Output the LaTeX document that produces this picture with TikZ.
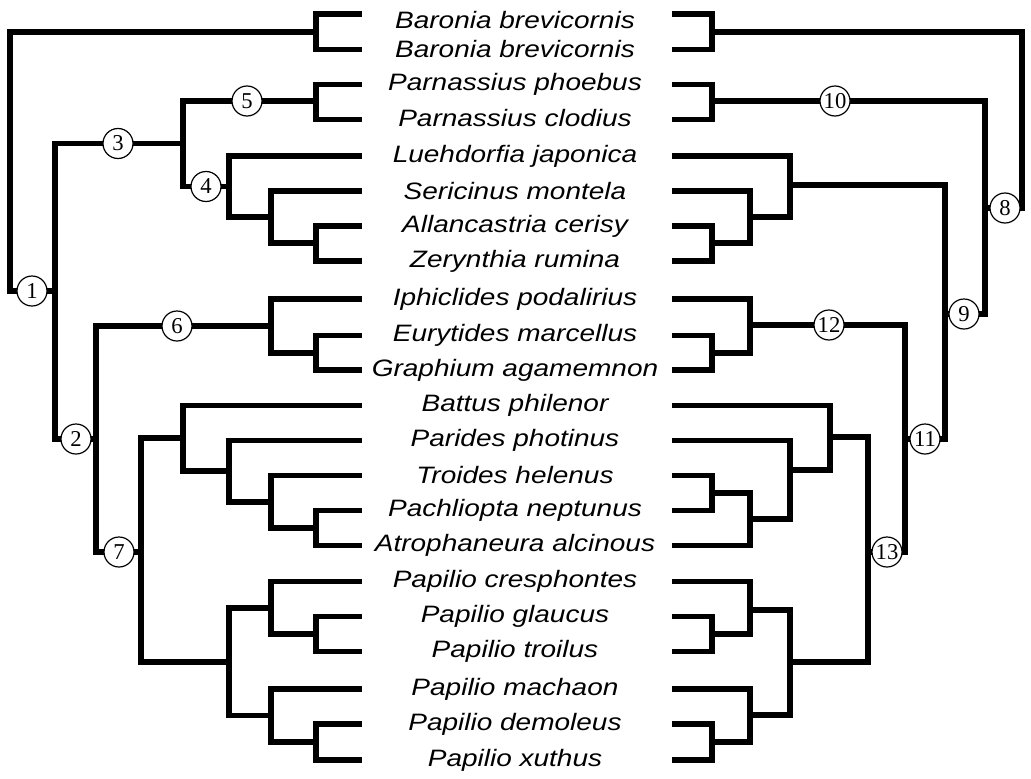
\documentclass[tikz,border=0pt]{standalone}
\usepackage{fontspec}
\newfontfamily\taxfont{Liberation Sans}[FakeStretch=1.18]
\newfontfamily\numfont{Liberation Serif}
\begin{document}
\begin{tikzpicture}[x=0.75pt,y=-0.75pt,
  branch/.style={line width=4.3pt,line cap=rect,line join=miter},
  num/.style={circle,draw,line width=0.9pt,fill=white,inner sep=0pt,minimum size=22.5pt,font=\numfont\fontsize{17}{17}\selectfont},
  taxon/.style={inner sep=0pt,font=\taxfont\itshape\fontsize{17.8}{18}\selectfont}]
\useasboundingbox (0,0) rectangle (1031,778);
% rows
\foreach \i/\y in {0/14,1/49.5,2/84.5,3/119.5,4/156,5/191,6/226,7/261,8/299,9/335.5,10/370,11/405.5,12/440.5,13/475.5,14/510.5,15/545.5,16/581.5,17/616.5,18/651.5,19/689,20/724,21/760}{
  \coordinate (l\i) at (359,\y);
  \coordinate (r\i) at (675,\y);
}
% taxa
\node[taxon] (t0) at (515,20) {Baronia brevicornis};
\node[taxon] (t1) at (515,49.5) {Baronia brevicornis};
\node[taxon] (t2) at (515,84.5) {Parnassius phoebus};
\node[taxon] (t3) at (515,118) {Parnassius clodius};
\node[taxon] (t4) at (515,156) {Luehdorfia japonica};
\node[taxon] (t5) at (515,191) {Sericinus montela};
\node[taxon] (t6) at (515,226) {Allancastria cerisy};
\node[taxon] (t7) at (515,261) {Zerynthia rumina};
\node[taxon] (t8) at (515,299) {Iphiclides podalirius};
\node[taxon] (t9) at (515,335.5) {Eurytides marcellus};
\node[taxon] (t10) at (515,370) {Graphium agamemnon};
\node[taxon] (t11) at (515,405.5) {Battus philenor};
\node[taxon] (t12) at (515,440.5) {Parides photinus};
\node[taxon] (t13) at (515,475.5) {Troides helenus};
\node[taxon] (t14) at (515,510.5) {Pachliopta neptunus};
\node[taxon] (t15) at (515,545.5) {Atrophaneura alcinous};
\node[taxon] (t16) at (515,581.5) {Papilio cresphontes};
\node[taxon] (t17) at (515,616.5) {Papilio glaucus};
\node[taxon] (t18) at (515,651.5) {Papilio troilus};
\node[taxon] (t19) at (515,689) {Papilio machaon};
\node[taxon] (t20) at (515,724) {Papilio demoleus};
\node[taxon] (t21) at (515,760) {Papilio xuthus};
% left tree nodes
\coordinate (LA) at (316,32);
\coordinate (LP) at (316,101);
\coordinate (LAZ) at (316,243);
\coordinate (LSAZ) at (271,217);
\coordinate (LLSAZ) at (229,186.5);
\coordinate (L3) at (183,143.5);
\coordinate (LEG) at (316,353);
\coordinate (L6) at (271,326);
\coordinate (LPA) at (316,528);
\coordinate (LTPA) at (271,502);
\coordinate (LPTPA) at (229,471);
\coordinate (LBat) at (183,438);
\coordinate (LGT) at (316,634);
\coordinate (LCGT) at (271,608);
\coordinate (LDX) at (316,742);
\coordinate (LMDX) at (271,715.5);
\coordinate (LPap) at (229,662);
\coordinate (L7) at (141,552);
\coordinate (L2) at (96,439);
\coordinate (Lroot) at (55,291);
\coordinate (Lbend) at (10,291);
% right tree nodes
\coordinate (RA) at (712,32);
\coordinate (RP) at (712,101);
\coordinate (RAZ) at (712,243);
\coordinate (RSAZ) at (750,217);
\coordinate (RLSAZ) at (790,185);
\coordinate (REG) at (712,353);
\coordinate (R12) at (750,325);
\coordinate (RTP) at (712,493);
\coordinate (RTPA) at (750,519);
\coordinate (RPTPA) at (790,470);
\coordinate (RBat) at (830,437);
\coordinate (RGT) at (712,634);
\coordinate (RCGT) at (750,610);
\coordinate (RDX) at (712,742);
\coordinate (RMDX) at (750,715);
\coordinate (RPap) at (790,662);
\coordinate (R13) at (868,552);
\coordinate (R11) at (905,439);
\coordinate (R9) at (945,314);
\coordinate (R10) at (985,208);
\coordinate (Rroot) at (1022,120);
% branches
\foreach \p/\c in {LA/l0,LA/l1,LP/l2,LP/l3,LAZ/l6,LAZ/l7,LSAZ/l5,LSAZ/LAZ,LLSAZ/l4,LLSAZ/LSAZ,L3/LP,L3/LLSAZ,
  LEG/l9,LEG/l10,L6/l8,L6/LEG,LPA/l14,LPA/l15,LTPA/l13,LTPA/LPA,LPTPA/l12,LPTPA/LTPA,LBat/l11,LBat/LPTPA,
  LGT/l17,LGT/l18,LCGT/l16,LCGT/LGT,LDX/l20,LDX/l21,LMDX/l19,LMDX/LDX,LPap/LCGT,LPap/LMDX,L7/LBat,L7/LPap,
  L2/L6,L2/L7,Lroot/L3,Lroot/L2,
  RA/r0,RA/r1,RP/r2,RP/r3,RAZ/r6,RAZ/r7,RSAZ/r5,RSAZ/RAZ,RLSAZ/r4,RLSAZ/RSAZ,REG/r9,REG/r10,R12/r8,R12/REG,
  RTP/r13,RTP/r14,RTPA/RTP,RTPA/r15,RPTPA/r12,RPTPA/RTPA,RBat/r11,RBat/RPTPA,RGT/r17,RGT/r18,RCGT/r16,RCGT/RGT,
  RDX/r20,RDX/r21,RMDX/r19,RMDX/RDX,RPap/RCGT,RPap/RMDX,R13/RBat,R13/RPap,R11/R12,R11/R13,R9/RLSAZ,R9/R11,
  R10/RP,R10/R9,Rroot/RA,Rroot/R10}{
  \draw[branch] (\p) |- (\c);
}
\draw[branch] (Lroot) -- (Lbend) |- (LA);
% numbered circles
\node[num] (c1) at (32,291) {1};
\node[num] (c2) at (76,439) {2};
\node[num] (c3) at (118,143.5) {3};
\node[num] (c4) at (206,186.5) {4};
\node[num] (c5) at (247,101) {5};
\node[num] (c6) at (177,326) {6};
\node[num] (c7) at (119,552) {7};
\node[num] (c8) at (1005,208) {8};
\node[num] (c9) at (964,314) {9};
\node[num] (c10) at (835,101) {10};
\node[num] (c11) at (925,439) {11};
\node[num] (c12) at (829,325) {12};
\node[num] (c13) at (887,552) {13};
\end{tikzpicture}
\end{document}
